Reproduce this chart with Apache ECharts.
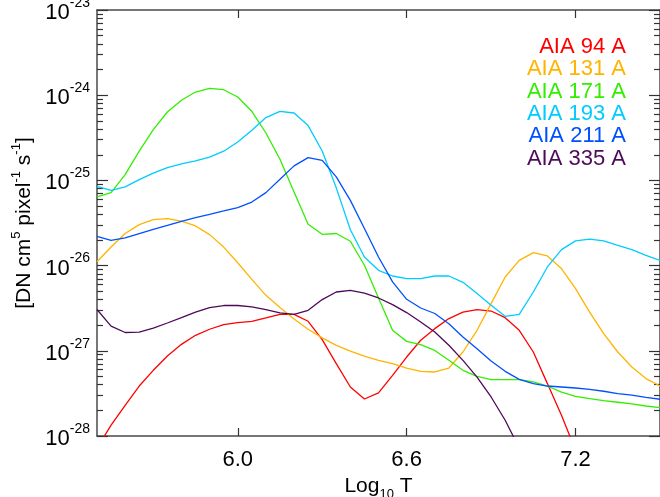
<!DOCTYPE html>
<html>
<head>
<meta charset="utf-8">
<script src="https://cdn.jsdelivr.net/npm/echarts@6/dist/echarts.min.js"></script>
<style>
html,body{margin:0;padding:0;background:#fff;}
#chart{width:660px;height:497px;}
</style>
</head>
<body>
<div id="chart"></div>
<script>
// Log10 T grid (x values)
const logT = [5.50,5.55,5.60,5.65,5.70,5.75,5.80,5.85,5.90,5.95,
              6.00,6.05,6.10,6.15,6.20,6.25,6.30,6.35,6.40,6.45,
              6.50,6.55,6.60,6.65,6.70,6.75,6.80,6.85,6.90,6.95,
              7.00,7.05,7.10,7.15,7.20,7.25,7.30,7.35,7.40,7.45,7.50];

// Responses [DN cm^5 pixel^-1 s^-1]
const resp94 = [7.2e-29,1.34e-28,2.29e-28,3.86e-28,5.9e-28,8.69e-28,1.19e-27,1.52e-27,1.79e-27,2.03e-27,
                2.14e-27,2.22e-27,2.43e-27,2.68e-27,2.68e-27,2.22e-27,1.35e-27,7.08e-28,3.76e-28,2.72e-28,
                3.2e-28,5.15e-28,8.45e-28,1.33e-27,1.82e-27,2.39e-27,2.85e-27,3.05e-27,2.93e-27,2.45e-27,
                1.74e-27,9.68e-28,4.12e-28,1.75e-28,6.8e-29];
const resp131 = [1.11e-26,1.65e-26,2.38e-26,3.03e-26,3.47e-26,3.56e-26,3.33e-26,2.92e-26,2.31e-26,1.65e-26,
                 1.08e-26,6.9e-27,4.48e-27,3.22e-27,2.36e-27,1.79e-27,1.42e-27,1.16e-27,9.91e-28,8.67e-28,
                 7.73e-28,7.08e-28,6.28e-28,5.74e-28,5.64e-28,6.28e-28,9.68e-28,1.74e-27,3.58e-27,7.35e-27,
                 1.15e-26,1.42e-26,1.3e-26,9.23e-27,5.37e-27,2.85e-27,1.59e-27,9.68e-28,6.46e-28,4.72e-28,3.86e-28];
const resp171 = [6.4e-26,7.2e-26,1.17e-25,2.21e-25,3.94e-25,6.35e-25,8.71e-25,1.09e-24,1.2e-24,1.16e-24,
                 9.53e-25,6.47e-25,3.6e-25,1.77e-25,7.31e-26,3.05e-26,2.33e-26,2.38e-26,1.93e-26,1.01e-26,
                 4.17e-27,1.74e-27,1.29e-27,1.18e-27,1.01e-27,7.73e-28,5.9e-28,5.02e-28,4.59e-28,4.59e-28,
                 4.59e-28,4.31e-28,3.86e-28,3.28e-28,2.92e-28,2.75e-28,2.6e-28,2.49e-28,2.38e-28,2.25e-28,2.15e-28];
const resp193 = [8.53e-26,7.66e-26,8.38e-26,1.02e-25,1.22e-25,1.41e-25,1.56e-25,1.69e-25,1.88e-25,2.2e-25,
                 2.82e-25,3.87e-25,5.46e-25,6.47e-25,6.18e-25,4.4e-25,2.21e-25,8.18e-26,2.63e-26,1.26e-26,
                 8.81e-27,7.55e-27,7.03e-27,7.03e-27,7.55e-27,7.55e-27,6.37e-27,4.69e-27,3.42e-27,2.54e-27,
                 2.68e-27,4.9e-27,9.64e-27,1.54e-26,1.95e-26,2.04e-26,1.95e-26,1.73e-26,1.54e-26,1.32e-26,1.15e-26];
const resp211 = [2.21e-26,1.98e-26,2.11e-26,2.38e-26,2.67e-26,2.97e-26,3.31e-26,3.66e-26,4.0e-26,4.38e-26,
                 4.8e-26,5.57e-26,7.19e-26,1.03e-25,1.48e-25,1.85e-25,1.72e-25,1.1e-25,5.83e-26,2.72e-26,
                 1.26e-26,6.43e-27,4.02e-27,3.18e-27,2.74e-27,2.08e-27,1.45e-27,1.06e-27,7.59e-28,5.74e-28,
                 4.62e-28,4.12e-28,3.86e-28,3.76e-28,3.66e-28,3.53e-28,3.35e-28,3.15e-28,3.01e-28,2.84e-28,2.7e-28];
const resp335 = [3.05e-27,1.95e-27,1.64e-27,1.66e-27,1.85e-27,2.12e-27,2.45e-27,2.85e-27,3.21e-27,3.4e-27,
                 3.4e-27,3.27e-27,3.05e-27,2.78e-27,2.68e-27,2.99e-27,3.99e-27,4.9e-27,5.13e-27,4.76e-27,
                 4.17e-27,3.48e-27,2.81e-27,2.18e-27,1.66e-27,1.16e-27,7.73e-28,4.92e-28,2.87e-28,1.53e-28,7.2e-29];

const channelNames = ['AIA 94 A','AIA 131 A','AIA 171 A','AIA 193 A','AIA 211 A','AIA 335 A'];
const channelData = [resp94, resp131, resp171, resp193, resp211, resp335];
const channelColors = ['#ff0000','#ffb400','#33ee00','#00ccff','#0050ff','#4e0a5a'];

const xTicks = [6.0, 6.6, 7.2];
// y range 1e-28 .. 1e-23; plotted in units of 1e-28 (ECharts log scale rounds
// very small numbers to 0, so the axis works in this unit and labels are shifted)
const UNIT_EXP = -28;
const UNIT = 1e-28;
const yMinExp = -28, yMaxExp = -23;

// minor tick positions (decades of the unit axis, log10 space) for decoration axes
const minorTicks = [];
for (let n = 0; n < yMaxExp - yMinExp; n++) for (let k = 2; k <= 9; k++) minorTicks.push(n + Math.log10(k));

const FONT = '"Liberation Sans", Arial, Helvetica, sans-serif';
const AX = '#4a4a4a';

const chart = echarts.init(document.getElementById('chart'), null, {renderer:'canvas'});

function pairs(arr){ return arr.map((v,i)=>[logT[i], v / UNIT]); }

const series = channelData.map((arr,i)=>({
  name: channelNames[i], type:'line', xAxisIndex:0, yAxisIndex:0,
  data: pairs(arr), showSymbol:false, symbol:'none', clip:true,
  lineStyle:{color:channelColors[i], width:1.3}, itemStyle:{color:channelColors[i]},
  animation:false, z: 2
}));

function commonX(pos){
  return {type:'value', min:5.5, max:7.5, position:pos, splitLine:{show:false},
    axisLine:{show:true, onZero:false, lineStyle:{color:AX, width:1.5}},
    axisTick:{show:true, inside:true, length:8, customValues:xTicks, lineStyle:{color:'#333', width:1.2}}};
}

const xBottom = commonX('bottom');
xBottom.axisLabel = {show:true, customValues:xTicks, formatter:v=>v.toFixed(1), fontSize:22, color:'#000', fontFamily:FONT, margin:13};
xBottom.name = 'Log{sub|10} T';
xBottom.nameLocation = 'middle';
xBottom.nameGap = 27;
xBottom.nameTextStyle = {fontSize:21, color:'#000', fontFamily:FONT,
  rich:{sub:{fontSize:13, fontFamily:FONT, color:'#000', verticalAlign:'bottom', lineHeight:30}}};
const xTop = commonX('top');
xTop.axisLabel = {show:false};

const option = {
  animation:false,
  backgroundColor:'#fff',
  grid:{left:97, top:10, width:563, height:426, show:false, outerBoundsMode:'none', containLabel:false},
  xAxis:[xBottom, xTop],
  yAxis:[
    {type:'log', logBase:10, min:1, max:Math.pow(10, yMaxExp - yMinExp), position:'left',
     splitLine:{show:false},
     axisLine:{show:true, onZero:false, lineStyle:{color:AX, width:1.5}},
     axisTick:{show:true, inside:true, length:11, lineStyle:{color:'#333', width:1.2}},
     axisLabel:{show:true, margin:7, color:'#000', fontFamily:FONT,
       formatter:v=>'{b|10}{s|' + (Math.round(Math.log10(v)) + UNIT_EXP) + '}',
       rich:{b:{fontSize:22, fontFamily:FONT, color:'#000', lineHeight:28, verticalAlign:'bottom'},
             s:{fontSize:14, fontFamily:FONT, color:'#000', lineHeight:28, verticalAlign:'top'}}},
     name:'[DN cm{s|5} pixel{s|-1} s{s|-1}]', nameLocation:'middle', nameRotate:90, nameGap:57,
     nameTextStyle:{fontSize:21, color:'#000', fontFamily:FONT,
       rich:{s:{fontSize:13, fontFamily:FONT, color:'#000', verticalAlign:'top', lineHeight:28}}}
    },
    {type:'value', min:0, max:yMaxExp - yMinExp, position:'left', splitLine:{show:false},
     axisLine:{show:false}, axisLabel:{show:false},
     axisTick:{show:true, inside:true, length:6, customValues:minorTicks, lineStyle:{color:'#333', width:1.2}}},
    {type:'log', logBase:10, min:1, max:Math.pow(10, yMaxExp - yMinExp), position:'right', splitLine:{show:false},
     axisLine:{show:true, onZero:false, lineStyle:{color:AX, width:1.5}},
     axisTick:{show:true, inside:true, length:11, lineStyle:{color:'#333', width:1.2}},
     axisLabel:{show:false}},
    {type:'value', min:0, max:yMaxExp - yMinExp, position:'right', splitLine:{show:false},
     axisLine:{show:false}, axisLabel:{show:false},
     axisTick:{show:true, inside:true, length:6, customValues:minorTicks, lineStyle:{color:'#333', width:1.2}}}
  ],
  graphic: channelNames.map((t,i)=>({
    type:'text', right: 660-626, top: 36 + i*22.3,
    style:{text:t, fill:channelColors[i], font:'22px ' + FONT, textAlign:'right'}
  })),
  series: series
};
chart.setOption(option);
</script>
</body>
</html>
